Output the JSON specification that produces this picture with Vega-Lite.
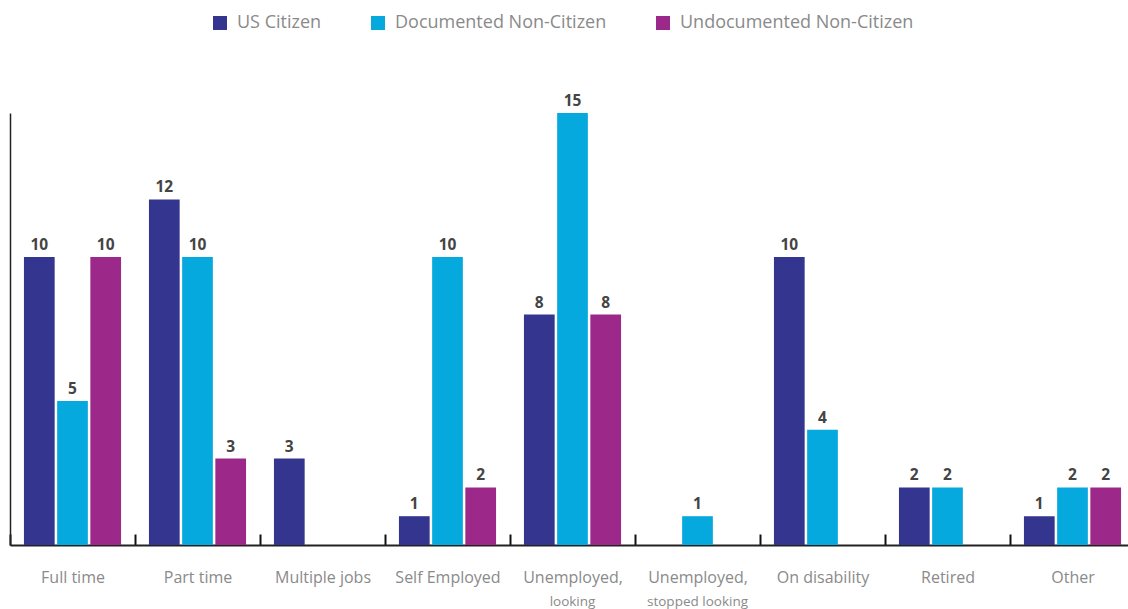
{
  "$schema": "https://vega.github.io/schema/vega-lite/v6.json",
  "width": 1118,
  "height": 432,
  "autosize": {"type": "none"},
  "padding": {"left": 10, "top": 113, "right": 0, "bottom": 64},
  "config": {
    "view": {"stroke": null},
    "font": "Open Sans"
  },
  "datasets": {
    "bars": [
      {"category": "Full time", "status": "US Citizen", "count": 10},
      {"category": "Full time", "status": "Documented Non-Citizen", "count": 5},
      {"category": "Full time", "status": "Undocumented Non-Citizen", "count": 10},
      {"category": "Part time", "status": "US Citizen", "count": 12},
      {"category": "Part time", "status": "Documented Non-Citizen", "count": 10},
      {"category": "Part time", "status": "Undocumented Non-Citizen", "count": 3},
      {"category": "Multiple jobs", "status": "US Citizen", "count": 3},
      {"category": "Multiple jobs", "status": "Documented Non-Citizen", "count": 0},
      {"category": "Multiple jobs", "status": "Undocumented Non-Citizen", "count": 0},
      {"category": "Self Employed", "status": "US Citizen", "count": 1},
      {"category": "Self Employed", "status": "Documented Non-Citizen", "count": 10},
      {"category": "Self Employed", "status": "Undocumented Non-Citizen", "count": 2},
      {"category": "Unemployed, looking", "status": "US Citizen", "count": 8},
      {"category": "Unemployed, looking", "status": "Documented Non-Citizen", "count": 15},
      {"category": "Unemployed, looking", "status": "Undocumented Non-Citizen", "count": 8},
      {"category": "Unemployed, stopped looking", "status": "US Citizen", "count": 0},
      {"category": "Unemployed, stopped looking", "status": "Documented Non-Citizen", "count": 1},
      {"category": "Unemployed, stopped looking", "status": "Undocumented Non-Citizen", "count": 0},
      {"category": "On disability", "status": "US Citizen", "count": 10},
      {"category": "On disability", "status": "Documented Non-Citizen", "count": 4},
      {"category": "On disability", "status": "Undocumented Non-Citizen", "count": 0},
      {"category": "Retired", "status": "US Citizen", "count": 2},
      {"category": "Retired", "status": "Documented Non-Citizen", "count": 2},
      {"category": "Retired", "status": "Undocumented Non-Citizen", "count": 0},
      {"category": "Other", "status": "US Citizen", "count": 1},
      {"category": "Other", "status": "Documented Non-Citizen", "count": 2},
      {"category": "Other", "status": "Undocumented Non-Citizen", "count": 2}
    ],
    "subs": [
      {"category": "Unemployed, looking", "sub": "looking"},
      {"category": "Unemployed, stopped looking", "sub": "stopped looking"}
    ]
  },
  "layer": [
    {
      "data": {"name": "bars"},
      "mark": {"type": "bar"},
      "encoding": {
        "x": {
          "field": "category", "type": "nominal", "sort": null,
          "scale": {"range": [0, 1125], "paddingInner": 0, "paddingOuter": 0},
          "axis": {
            "title": null, "labelAngle": 0,
            "labelExpr": "indexof(datum.label, 'Unemployed') == 0 ? 'Unemployed,' : datum.label",
            "domain": true, "domainColor": "#222", "domainWidth": 2,
            "ticks": true, "tickBand": "extent", "tickSize": -11, "tickWidth": 2, "tickColor": "#111",
            "labelFont": "Open Sans", "labelFontSize": 16, "labelColor": "#8a8a8a",
            "labelPadding": 35, "labelBaseline": "top", "grid": false
          }
        },
        "xOffset": {
          "field": "status", "type": "nominal", "sort": ["US Citizen", "Documented Non-Citizen", "Undocumented Non-Citizen"],
          "scale": {"paddingInner": 0.075, "paddingOuter": 0.42}
        },
        "y": {
          "field": "count", "type": "quantitative",
          "scale": {"domain": [0, 15], "nice": false},
          "axis": {"title": null, "labels": false, "ticks": false, "grid": false, "domain": true, "domainColor": "#222", "domainWidth": 1.5}
        },
        "color": {
          "field": "status", "type": "nominal",
          "scale": {"domain": ["US Citizen", "Documented Non-Citizen", "Undocumented Non-Citizen"], "range": ["#33358E", "#06A9DE", "#9C2989"]},
          "legend": {
            "title": null, "orient": "none", "legendX": 201, "legendY": -99, "direction": "horizontal",
            "symbolType": "square", "symbolSize": 196, "symbolStrokeWidth": 0, "symbolOpacity": 1,
            "labelFont": "Open Sans", "labelFontSize": 18, "labelColor": "#8a8a8a", "labelLimit": 500,
            "labelOffset": 8, "columnPadding": 47
          }
        }
      }
    },
    {
      "data": {"name": "bars"},
      "transform": [{"filter": "datum.count > 0"}],
      "mark": {"type": "text", "baseline": "alphabetic", "dy": -7, "fontSize": 15.5, "fontWeight": "bold", "font": "Open Sans", "color": "#444"},
      "encoding": {
        "x": {"field": "category", "type": "nominal", "sort": null},
        "xOffset": {"field": "status", "type": "nominal", "sort": ["US Citizen", "Documented Non-Citizen", "Undocumented Non-Citizen"]},
        "y": {"field": "count", "type": "quantitative"},
        "text": {"field": "count", "type": "quantitative"}
      }
    },
    {
      "data": {"name": "subs"},
      "mark": {"type": "text", "baseline": "middle", "dy": 57, "fontSize": 13.5, "font": "Open Sans", "color": "#8a8a8a"},
      "encoding": {
        "x": {"field": "category", "type": "nominal", "sort": null},
        "y": {"datum": 0, "type": "quantitative"},
        "text": {"field": "sub", "type": "nominal"}
      }
    }
  ]
}
